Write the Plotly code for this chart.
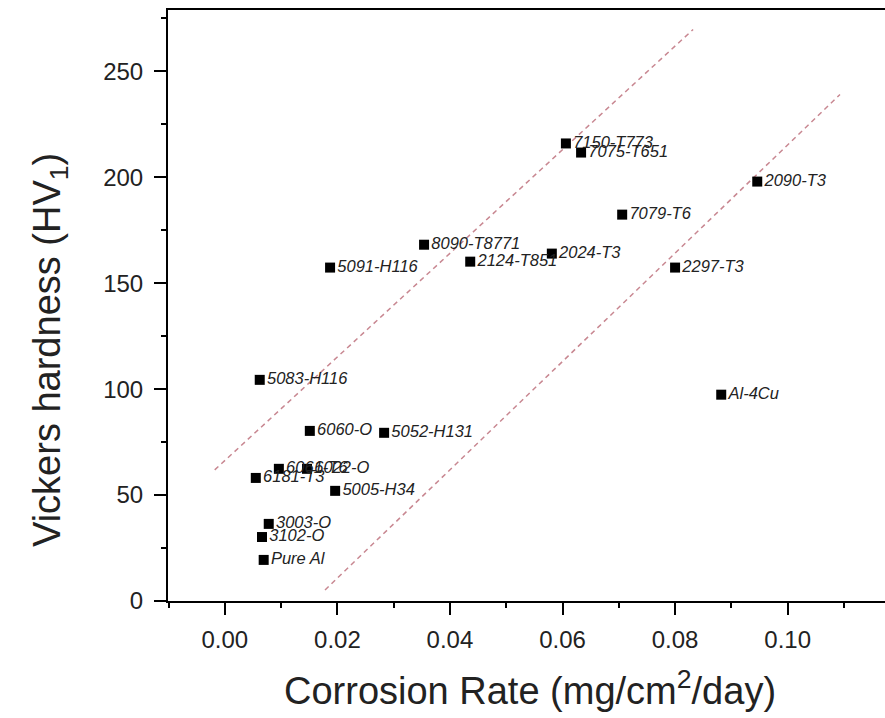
import plotly.graph_objects as go

alloys = ["7150-T773", "7075-T651", "2090-T3", "7079-T6", "8090-T8771", "2024-T3",
          "2124-T851", "5091-H116", "2297-T3", "5083-H116", "Al-4Cu", "6060-O",
          "5052-H131", "6061-T6", "6022-O", "6181-T3", "5005-H34", "3003-O",
          "3102-O", "Pure Al"]
corrosion_rate = [0.0606, 0.0633, 0.0946, 0.0706, 0.0354, 0.0581,
                  0.0436, 0.0187, 0.0800, 0.0062, 0.0882, 0.0151,
                  0.0283, 0.0096, 0.0146, 0.0055, 0.0196, 0.0078,
                  0.0066, 0.0069]
hardness = [216, 211.7, 198, 182.4, 168.2, 164,
            160.2, 157.4, 157.4, 104.4, 97.4, 80.3,
            79.4, 62.4, 62.4, 58.1, 52, 36.4,
            30.2, 19.4]

upper_line_x = [-0.0018, 0.0832]
upper_line_y = [61.9, 269.8]
lower_line_x = [0.0178, 0.1093]
lower_line_y = [5.2, 239.1]

x_title = "Corrosion Rate (mg/cm<sup>2</sup>/day)"
y_title = "Vickers hardness (HV<sub>1</sub>)"

fig = go.Figure()
for lx, ly in [(upper_line_x, upper_line_y), (lower_line_x, lower_line_y)]:
    fig.add_trace(go.Scatter(x=lx, y=ly, mode="lines",
                             line=dict(color="rgb(200,135,145)", width=1.5, dash="5px,4px"),
                             showlegend=False, hoverinfo="skip"))

fig.add_trace(go.Scatter(
    x=corrosion_rate, y=hardness, mode="markers+text",
    marker=dict(symbol="square", size=10, color="black"),
    text=["<i>" + a + "</i>" for a in alloys],
    textposition="middle right",
    textfont=dict(family="Liberation Sans, Arial", size=16.5, color="#222"),
    showlegend=False,
))

fig.update_layout(
    width=885, height=718,
    margin=dict(l=168, r=0, t=10, b=117),
    plot_bgcolor="white", paper_bgcolor="white",
    font=dict(family="Liberation Sans, Arial", color="#222"),
)
fig.add_annotation(text=x_title, xref="paper", yref="paper",
                   x=(530 - 168) / 717, y=(601 - 688) / 591,
                   xanchor="center", yanchor="middle", showarrow=False,
                   font=dict(size=38, color="#222"))
fig.add_annotation(text=y_title, xref="paper", yref="paper", textangle=-90,
                   x=(50 - 168) / 717, y=(601 - 350) / 591,
                   xanchor="center", yanchor="middle", showarrow=False,
                   font=dict(size=38, color="#222"))

fig.update_xaxes(
    range=[-0.0101, 0.1173], tick0=0, dtick=0.02, tickformat=".2f",
    showgrid=False, zeroline=False,
    showline=True, linecolor="black", linewidth=2, mirror=True,
    ticks="outside", ticklen=12, tickwidth=1.5, tickcolor="black",
    minor=dict(dtick=0.01, tick0=0, ticks="outside", ticklen=5, tickwidth=1.5, tickcolor="black"),
    tickfont=dict(size=24), ticklabelstandoff=4,
)
fig.update_yaxes(
    range=[0, 279], tick0=0, dtick=50,
    showgrid=False, zeroline=False,
    showline=True, linecolor="black", linewidth=2, mirror=False,
    ticks="outside", ticklen=12, tickwidth=1.5, tickcolor="black",
    minor=dict(dtick=25, tick0=0, ticks="outside", ticklen=5, tickwidth=1.5, tickcolor="black"),
    tickfont=dict(size=24), ticklabelstandoff=6,
)

fig.write_html("out.html")
